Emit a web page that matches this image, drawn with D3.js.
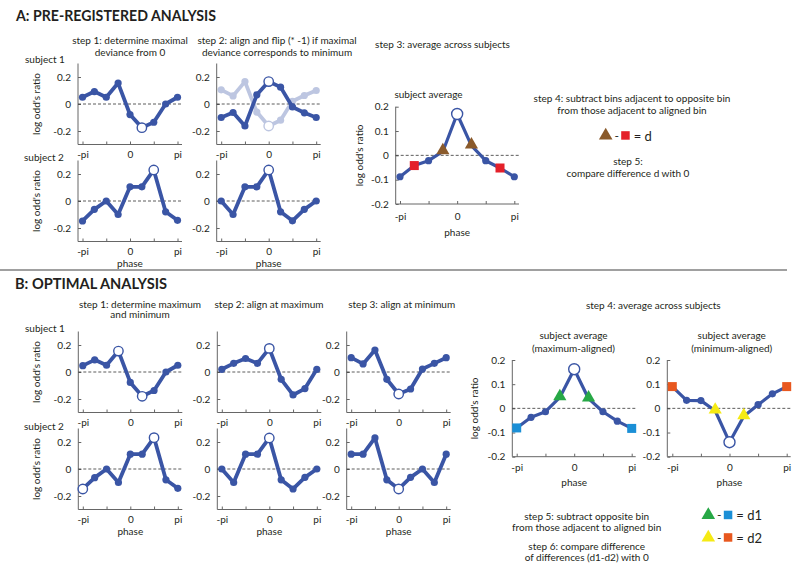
<!DOCTYPE html>
<html><head><meta charset="utf-8">
<script src="https://cdn.jsdelivr.net/npm/d3@7"></script>
<style>
body{margin:0;background:#fff}
svg{display:block}
text{font-family:Lato,"Open Sans",sans-serif;fill:#231f20}
</style>
</head><body>
<svg id="chart" width="800" height="570"></svg>
<script>
// ---------------- DATA ----------------
const phaseBins = [-1, -0.75, -0.5, -0.25, 0, 0.25, 0.5, 0.75, 1]; // multiples of pi
const phaseTickValues = [-1, -0.5, 0, 0.5, 1];
const phaseTickLabels = {"-1": "-pi", "0": "0", "1": "pi"};
const smallYTicks = [-0.2, 0, 0.2];
const avgYTicks = [-0.2, -0.1, 0, 0.1, 0.2];

// A: pre-registered analysis
const A_s1_step1 = [0.05, 0.092, 0.05, 0.155, -0.078, -0.175, -0.135, 0.0, 0.05];
const A_s1_step1_open = [5];
const A_s1_step2_flipped = [-0.1, -0.063, -0.163, 0.068, 0.166, 0.125, -0.022, -0.065, -0.1];
const A_s1_step2_original = [0.105, 0.06, 0.166, -0.06, -0.163, -0.12, 0.02, 0.063, 0.1];
const A_s1_step2_open = [4];
const A_s2_step1 = [-0.148, -0.062, 0.0, -0.1, 0.105, 0.105, 0.23, -0.08, -0.143];
const A_s2_step1_open = [6];
const A_s2_step2 = [0.0, -0.1, 0.105, 0.105, 0.23, -0.08, -0.147, -0.062, 0.0];
const A_s2_step2_open = [4];
const A_average = [-0.088, -0.042, -0.022, 0.016, 0.17, 0.04, -0.022, -0.052, -0.088];
const A_average_open = [4];
const A_average_triangles = [3, 5];
const A_average_squares = [1, 7];

// B: optimal analysis
const B_s1_step1 = [0.047, 0.09, 0.05, 0.155, -0.077, -0.18, -0.137, 0.0, 0.05];
const B_s1_step1_open = [3, 5];
const B_s1_maxAligned = [0.02, 0.064, 0.1, 0.064, 0.175, -0.054, -0.17, -0.123, 0.02];
const B_s1_minAligned = [0.106, 0.06, 0.163, -0.054, -0.163, -0.126, 0.022, 0.064, 0.106];
const B_s2_step1 = [-0.148, -0.064, 0.0, -0.1, 0.11, 0.11, 0.232, -0.08, -0.143];
const B_s2_step1_open = [0, 6];
const B_s2_maxAligned = [0.0, -0.1, 0.11, 0.11, 0.23, -0.08, -0.148, -0.062, 0.0];
const B_s2_minAligned = [0.11, 0.11, 0.23, -0.08, -0.148, -0.062, 0.0, -0.1, 0.11];
const aligned_open = [4];
const B_avg_maxAligned = [-0.081, -0.037, -0.014, 0.045, 0.162, 0.04, -0.014, -0.053, -0.083];
const B_avg_minAligned = [0.09, 0.033, 0.032, -0.01, -0.14, -0.033, 0.015, 0.06, 0.09];
const B_avg_triangles = [3, 5];
const B_avg_squares = [0, 8];

// ---------------- STYLE ----------------
const BLUE = "#3a55a5";
const COL = {brown: "#8a5a2b", red: "#e4202a", green: "#27a846", sky: "#1b8fd6", yellow: "#f5ea14", orange: "#e8581f"};

const svg = d3.select("#chart");

function fmtY(d) { return d === 0 ? "0" : (d < 0 ? "-" : "") + Math.abs(d).toFixed(1); }

function panel(p) {
  const g = svg.append("g");
  const x = d3.scaleLinear().domain([-1, 1]).range([p.ax + p.padL, p.ax + p.padL + p.w]);
  const y = d3.scaleLinear().domain(p.yDomain).range([p.bottom, p.top]);
  const xEnd = p.ax + p.padL + p.w + p.padR;

  const ya = g.append("g").attr("transform", `translate(${p.ax},0)`)
    .call(d3.axisLeft(y).tickValues(p.yTicks).tickSize(-3).tickPadding(7).tickFormat(fmtY));
  ya.select(".domain").remove();
  ya.selectAll("line").attr("stroke", "#666");
  ya.selectAll("text").attr("font-size", 10).attr("font-family", "Lato").attr("fill", "#231f20");

  const xa = g.append("g").attr("transform", `translate(0,${p.bottom})`)
    .call(d3.axisBottom(x).tickValues(phaseTickValues).tickSize(-3).tickPadding(p.xPad)
      .tickFormat(d => phaseTickLabels[String(d)] || ""));
  xa.select(".domain").remove();
  xa.selectAll("line").attr("stroke", "#666");
  xa.selectAll("text").attr("font-size", 10).attr("font-family", "Lato").attr("fill", "#231f20");

  g.append("line").attr("x1", p.ax).attr("x2", p.ax).attr("y1", y(p.yDomain[1])).attr("y2", y(p.yDomain[0]))
    .attr("stroke", "#666").attr("stroke-width", 1);
  g.append("line").attr("x1", p.ax).attr("x2", xEnd).attr("y1", p.bottom).attr("y2", p.bottom)
    .attr("stroke", "#666").attr("stroke-width", 1);
  g.append("line").attr("x1", p.ax).attr("x2", xEnd).attr("y1", y(0)).attr("y2", y(0))
    .attr("stroke", "#333").attr("stroke-width", 0.8).attr("stroke-dasharray", "3,2");

  if (p.phaseLabel) {
    g.append("text").attr("x", x(0)).attr("y", p.bottom + p.phaseOff).attr("text-anchor", "middle")
      .attr("font-size", 10).text("phase");
  }
  if (p.yLabel) {
    g.append("text").attr("transform", `translate(${p.ax - p.yLabOff},${y(0)}) rotate(-90)`)
      .attr("text-anchor", "middle").attr("font-size", 10).text("log odd's ratio");
  }

  const line = d3.line().x((d, i) => x(phaseBins[i])).y(d => y(d));
  p.series.forEach(s => {
    const sg = g.append("g").attr("opacity", s.opacity || 1);
    sg.append("path").datum(s.values).attr("d", line).attr("fill", "none")
      .attr("stroke", BLUE).attr("stroke-width", p.lw).attr("stroke-linejoin", "round");
    const special = new Set([...(s.open || []), ...(s.tri || []), ...(s.sq || [])]);
    sg.selectAll("circle.f").data(s.values.map((v, i) => ({v, i})).filter(d => !special.has(d.i)))
      .enter().append("circle").attr("cx", d => x(phaseBins[d.i])).attr("cy", d => y(d.v))
      .attr("r", p.r).attr("fill", BLUE);
    sg.selectAll("circle.o").data((s.open || []).map(i => ({v: s.values[i], i})))
      .enter().append("circle").attr("cx", d => x(phaseBins[d.i])).attr("cy", d => y(d.v))
      .attr("r", p.ro).attr("fill", "#fff").attr("stroke", BLUE).attr("stroke-width", 1.4);
    const tri = d3.symbol().type(d3.symbolTriangle).size(p.triSize || 60);
    sg.selectAll("path.t").data((s.tri || []).map(i => ({v: s.values[i], i})))
      .enter().append("path").attr("d", tri)
      .attr("transform", d => `translate(${x(phaseBins[d.i])},${y(d.v) - 1})`)
      .attr("fill", s.triColor);
    const sq = p.sqSize || 8.5;
    sg.selectAll("rect.s").data((s.sq || []).map(i => ({v: s.values[i], i})))
      .enter().append("rect").attr("x", d => x(phaseBins[d.i]) - sq / 2).attr("y", d => y(d.v) - sq / 2)
      .attr("width", sq).attr("height", sq).attr("fill", s.sqColor);
  });
}

const small = (ax, zero) => ({ax, padL: 4.5, w: 95, padR: 4.5, yDomain: [-0.3, 0.3], top: zero - 40.5, bottom: zero + 40.5,
  yTicks: smallYTicks, xPad: 6, lw: 3.8, r: 3.6, ro: 4.7, phaseOff: 25.5, yLabOff: 38});

// ---- Panel A ----
panel({...small(78, 104), yLabel: true, series: [{values: A_s1_step1, open: A_s1_step1_open}]});
panel({...small(216.7, 104), series: [
  {values: A_s1_step2_original, open: A_s1_step2_open, opacity: 0.33},
  {values: A_s1_step2_flipped, open: A_s1_step2_open}]});
panel({...small(78, 201), yLabel: true, phaseLabel: true, series: [{values: A_s2_step1, open: A_s2_step1_open}]});
panel({...small(216.7, 201), phaseLabel: true, series: [{values: A_s2_step2, open: A_s2_step2_open}]});
panel({ax: 395.7, padL: 4.3, w: 114.3, padR: 4.7, yDomain: [-0.2, 0.2], top: 106.7, bottom: 204, yTicks: avgYTicks,
  xPad: 9, lw: 3.2, r: 3.6, ro: 5.5, phaseOff: 32, yLabOff: 33, yLabel: true, phaseLabel: true, triSize: 75, sqSize: 9,
  series: [{values: A_average, open: A_average_open, tri: A_average_triangles, triColor: COL.brown,
            sq: A_average_squares, sqColor: COL.red}]});

// ---- Panel B ----
panel({...small(78.3, 372), yLabel: true, series: [{values: B_s1_step1, open: B_s1_step1_open}]});
panel({...small(217.3, 372), series: [{values: B_s1_maxAligned, open: aligned_open}]});
panel({...small(346.7, 372), series: [{values: B_s1_minAligned, open: aligned_open}]});
panel({...small(78.3, 469), yLabel: true, phaseLabel: true, series: [{values: B_s2_step1, open: B_s2_step1_open}]});
panel({...small(217.3, 469), phaseLabel: true, series: [{values: B_s2_maxAligned, open: aligned_open}]});
panel({...small(346.7, 469), phaseLabel: true, series: [{values: B_s2_minAligned, open: aligned_open}]});
const bAvg = {padL: 4.4, w: 115, padR: 4, yDomain: [-0.2, 0.2], top: 360, bottom: 456.7, yTicks: avgYTicks,
  xPad: 7.5, lw: 3.2, r: 3.6, ro: 5.5, phaseOff: 29, yLabOff: 34, phaseLabel: true, triSize: 75, sqSize: 9};
panel({...bAvg, ax: 512.3, yLabel: true, series: [{values: B_avg_maxAligned, open: aligned_open,
  tri: B_avg_triangles, triColor: COL.green, sq: B_avg_squares, sqColor: COL.sky}]});
panel({...bAvg, ax: 667.3, padL: 5, w: 114.4, series: [{values: B_avg_minAligned, open: aligned_open,
  tri: B_avg_triangles, triColor: COL.yellow, sq: B_avg_squares, sqColor: COL.orange}]});

// ---------------- TEXT ----------------
function txt(x, y, s, opts = {}) {
  const t = svg.append("text").attr("x", x).attr("y", y).attr("text-anchor", opts.anchor || "middle")
    .attr("font-size", opts.size || 10).text(s);
  if (opts.bold) t.attr("font-weight", "bold");
  if (opts.len) t.attr("textLength", opts.len).attr("lengthAdjust", "spacingAndGlyphs");
  return t;
}
txt(16, 20.5, "A: PRE-REGISTERED ANALYSIS", {anchor: "start", size: 15, bold: true, len: 200});
txt(15, 289, "B: OPTIMAL ANALYSIS", {anchor: "start", size: 15, bold: true, len: 152});

svg.append("line").attr("x1", 0).attr("x2", 787).attr("y1", 270).attr("y2", 270)
  .attr("stroke", "#808080").attr("stroke-width", 1.6);

txt(130, 44, "step 1: determine maximal");
txt(130, 56, "deviance from 0");
txt(277, 44, "step 2: align and flip (* -1) if maximal");
txt(277, 56, "deviance corresponds to minimum");
txt(442.5, 47.5, "step 3: average across subjects");
txt(25, 63, "subject 1", {anchor: "start"});
txt(24, 160.5, "subject 2", {anchor: "start"});
txt(428.5, 97.5, "subject average");
txt(632, 101.5, "step 4: subtract bins adjacent to opposite bin");
txt(632, 114, "from those adjacent to aligned bin");
txt(628, 164.5, "step 5:");
txt(628, 176.5, "compare difference d with 0");

txt(140, 307.5, "step 1: determine maximum");
txt(140, 318, "and minimum");
txt(269, 307.5, "step 2: align at maximum");
txt(401.7, 307.5, "step 3: align at minimum");
txt(653.3, 308.5, "step 4: average across subjects");
txt(25, 331.5, "subject 1", {anchor: "start"});
txt(24, 430, "subject 2", {anchor: "start"});
txt(573.5, 338.5, "subject average");
txt(573.5, 352, "(maximum-aligned)");
txt(731.7, 338.5, "subject average");
txt(731.7, 352, "(minimum-aligned)");
txt(586.7, 519.5, "step 5: subtract opposite bin");
txt(586.7, 531, "from those adjacent to aligned bin");
txt(586.7, 549.5, "step 6: compare difference");
txt(586.7, 561, "of differences (d1-d2) with 0");

function legendRow(cx, cy, triColor, sqColor, label) {
  svg.append("path").attr("d", d3.symbol().type(d3.symbolTriangle).size(80)())
    .attr("transform", `translate(${cx},${cy})`).attr("fill", triColor);
  txt(cx + 11, cy + 4, "-", {size: 12});
  svg.append("rect").attr("x", cx + 15.5).attr("y", cy - 4.3).attr("width", 8.5).attr("height", 8.5).attr("fill", sqColor);
  txt(cx + 28, cy + 5, "= " + label, {anchor: "start", size: 13});
}
legendRow(605.7, 135.5, COL.brown, COL.red, "d");
legendRow(708.3, 515, COL.green, COL.sky, "d1");
legendRow(708.3, 537.5, COL.yellow, COL.orange, "d2");
</script>
</body></html>
